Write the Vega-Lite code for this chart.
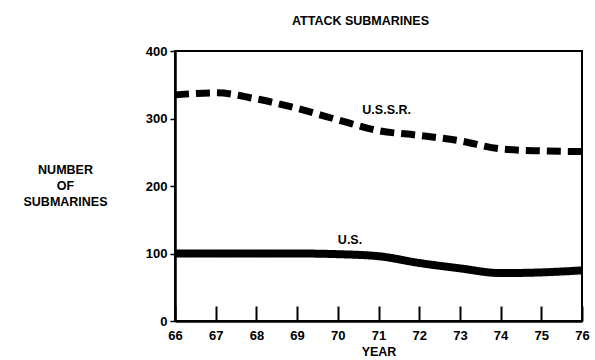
{
  "$schema": "https://vega.github.io/schema/vega-lite/v6.json",
  "width": 407,
  "height": 270,
  "autosize": {"type": "none"},
  "padding": {"left": 175, "top": 51, "right": 13, "bottom": 39},
  "background": "white",
  "title": {"text": "ATTACK SUBMARINES", "font": "Liberation Sans", "fontSize": 12.5, "fontWeight": "bold", "color": "black", "offset": 18, "dx": -18, "anchor": "middle"},
  "config": {
    "view": {"stroke": "black", "strokeWidth": 2},
    "axis": {"labelFont": "Liberation Sans", "labelFontWeight": "bold", "labelFontSize": 13, "labelColor": "black", "titleFont": "Liberation Sans", "titleFontWeight": "bold", "titleFontSize": 12.5, "titleColor": "black", "domainColor": "black", "domainWidth": 2.5, "tickColor": "black", "grid": false}
  },
  "data": {"values": [
    {"year": 66, "series": "U.S.S.R.", "n": 335},
    {"year": 67, "series": "U.S.S.R.", "n": 338},
    {"year": 68, "series": "U.S.S.R.", "n": 329},
    {"year": 69, "series": "U.S.S.R.", "n": 315},
    {"year": 70, "series": "U.S.S.R.", "n": 298},
    {"year": 71, "series": "U.S.S.R.", "n": 282},
    {"year": 72, "series": "U.S.S.R.", "n": 275},
    {"year": 73, "series": "U.S.S.R.", "n": 267},
    {"year": 74, "series": "U.S.S.R.", "n": 255},
    {"year": 75, "series": "U.S.S.R.", "n": 252},
    {"year": 76, "series": "U.S.S.R.", "n": 251},
    {"year": 66, "series": "U.S.", "n": 100},
    {"year": 67, "series": "U.S.", "n": 100},
    {"year": 68, "series": "U.S.", "n": 100},
    {"year": 69, "series": "U.S.", "n": 100},
    {"year": 70, "series": "U.S.", "n": 99},
    {"year": 71, "series": "U.S.", "n": 96},
    {"year": 72, "series": "U.S.", "n": 86},
    {"year": 73, "series": "U.S.", "n": 78},
    {"year": 74, "series": "U.S.", "n": 71},
    {"year": 75, "series": "U.S.", "n": 72},
    {"year": 76, "series": "U.S.", "n": 75}
  ]},
  "layer": [
    {
      "mark": {"type": "line", "interpolate": "monotone", "color": "black", "strokeCap": "butt"},
      "encoding": {
        "x": {"field": "year", "type": "quantitative", "scale": {"domain": [66, 76], "nice": false},
          "axis": {"values": [66,67,68,69,70,71,72,73,74,75,76], "title": "YEAR", "titlePadding": 3, "tickSize": -15, "tickWidth": 2, "labelPadding": 29, "labelFlush": false, "labelBaseline": "middle"}},
        "y": {"field": "n", "type": "quantitative", "scale": {"domain": [0, 400], "nice": false},
          "axis": {"values": [0,100,200,300,400], "title": ["NUMBER", "OF", "SUBMARINES"], "titleAngle": 0, "titleAlign": "center", "titleBaseline": "middle", "titleLineHeight": 16, "titleX": -110, "titleY": 118, "tickSize": 5, "tickWidth": 1.5, "labelPadding": 3}},
        "detail": {"field": "series"},
        "strokeDash": {"field": "series", "type": "nominal", "scale": {"domain": ["U.S.S.R.", "U.S."], "range": [[14, 7], [1, 0]]}, "legend": null},
        "strokeWidth": {"field": "series", "type": "nominal", "scale": {"domain": ["U.S.S.R.", "U.S."], "range": [7, 8]}, "legend": null}
      }
    },
    {
      "data": {"values": [{"label": "U.S.S.R.", "year": 71.2, "n": 312}, {"label": "U.S.", "year": 70.3, "n": 120}]},
      "mark": {"type": "text", "font": "Liberation Sans", "fontWeight": "bold", "fontSize": 12.5, "color": "black", "align": "center", "baseline": "middle"},
      "encoding": {
        "x": {"field": "year", "type": "quantitative"},
        "y": {"field": "n", "type": "quantitative"},
        "text": {"field": "label"}
      }
    }
  ]
}
